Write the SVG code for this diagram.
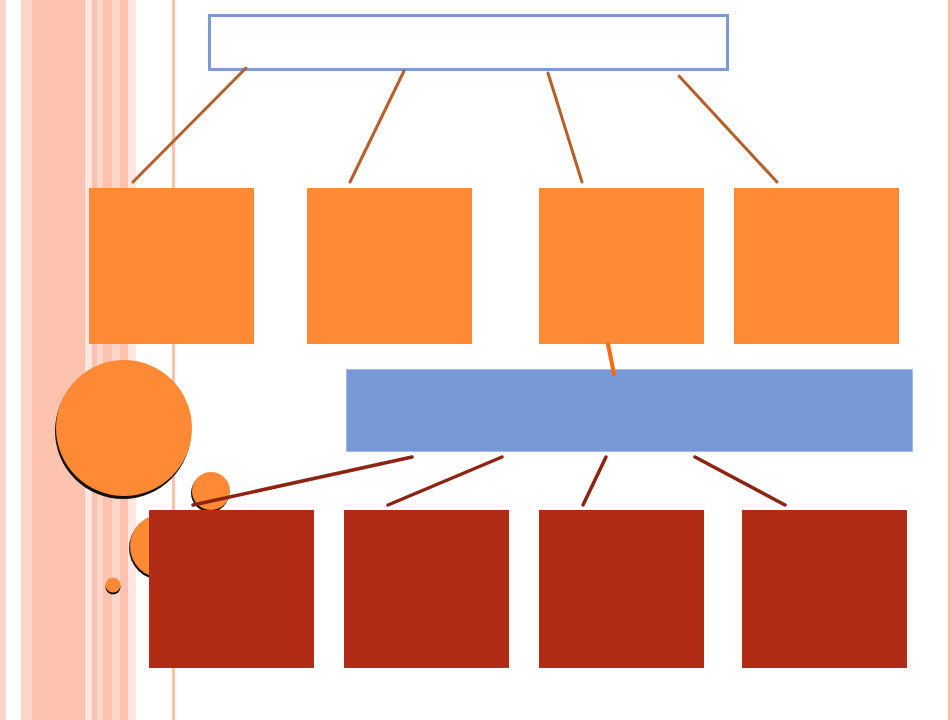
<svg xmlns="http://www.w3.org/2000/svg" width="952" height="720" viewBox="0 0 952 720">
<style>
.s1{fill:#FDC3AE}.s2{fill:#FDD6C9}.s3{fill:#FEE7E1}
.dot{fill:#FF8A35}
.shadow{fill:#111}
.l1{stroke:#B5602A;stroke-width:3;stroke-linecap:round}
.l2{stroke:#FF6A0A;stroke-width:4;stroke-linecap:round}
.l3{stroke:#8E2312;stroke-width:3.5;stroke-linecap:round}
.org{fill:#FF8A36}
.red{fill:#B22C15}
</style>
<rect width="952" height="720" fill="#fff"/>
<g id="background">
<rect class="s2" x="0" y="0" width="6" height="720"/>
<rect class="s2" x="21" y="0" width="11" height="720"/>
<rect class="s1" x="32" y="0" width="53" height="720"/>
<rect class="s3" x="85" y="0" width="7" height="720"/>
<rect class="s1" x="92" y="0" width="5" height="720"/>
<rect class="s2" x="97" y="0" width="6" height="720"/>
<rect class="s1" x="103" y="0" width="9" height="720"/>
<rect class="s2" x="112" y="0" width="8" height="720"/>
<rect class="s1" x="120" y="0" width="8" height="720"/>
<rect class="s3" x="128" y="0" width="8" height="720"/>
<rect class="s1" x="172" y="0" width="3" height="720"/>
<rect class="s1" x="948" y="0" width="4" height="720"/>
</g>
<g id="circles">
<circle class="shadow" cx="123" cy="431" r="68"/>
<circle class="dot" cx="124" cy="428" r="68"/>
<circle class="shadow" cx="210" cy="493" r="19"/>
<circle class="dot" cx="211" cy="491" r="19"/>
<circle class="shadow" cx="161" cy="548" r="32"/>
<circle class="dot" cx="162" cy="546" r="32"/>
<circle class="shadow" cx="113" cy="587" r="7.5"/>
<circle class="dot" cx="113" cy="585" r="7.5"/>
</g>
<g id="top"><rect x="209.5" y="15.5" width="518" height="54" fill="#fff" stroke="#7B9BD2" stroke-width="3"/></g>
<g id="o1"><rect class="org" x="89" y="188" width="165" height="156"/></g>
<g id="o2"><rect class="org" x="307" y="188" width="165" height="156"/></g>
<g id="o3"><rect class="org" x="539" y="188" width="165" height="156"/></g>
<g id="o4"><rect class="org" x="734" y="188" width="165" height="156"/></g>
<g id="mid"><rect x="346.5" y="369.5" width="566" height="82" fill="#7698D6" stroke="#A9BDE4" stroke-width="1"/></g>
<g id="r1"><rect class="red" x="149" y="510" width="165" height="158"/></g>
<g id="r2"><rect class="red" x="344" y="510" width="165" height="158"/></g>
<g id="r3"><rect class="red" x="539" y="510" width="165" height="158"/></g>
<g id="r4"><rect class="red" x="742" y="510" width="165" height="158"/></g>
<g id="connectors">
<line class="l1" x1="246" y1="68" x2="133" y2="182"/>
<line class="l1" x1="404" y1="71" x2="350" y2="182"/>
<line class="l1" x1="548" y1="73" x2="582" y2="182"/>
<line class="l1" x1="679" y1="76" x2="777" y2="182"/>
<line class="l2" x1="608" y1="344" x2="614" y2="374"/>
<line class="l3" x1="412" y1="457" x2="193" y2="505"/>
<line class="l3" x1="502" y1="457" x2="388" y2="505"/>
<line class="l3" x1="606" y1="457" x2="583" y2="505"/>
<line class="l3" x1="695" y1="457" x2="785" y2="505"/>
</g>
</svg>
